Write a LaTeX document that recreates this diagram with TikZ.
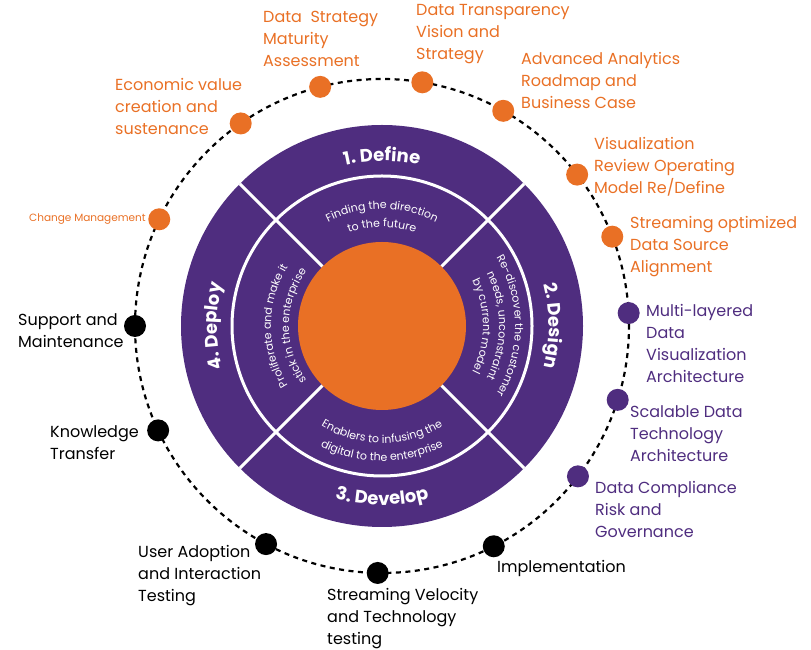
\documentclass[tikz,border=0pt]{standalone}
\usepackage{fontspec}
\setmainfont{Poppins}
\usetikzlibrary{decorations.text}
\definecolor{wheelpurple}{RGB}{79,45,127}
\definecolor{wheelorange}{RGB}{233,112,37}

\begin{document}
\begin{tikzpicture}[x = 1pt, y = 1pt,
		dot/.style = {circle, fill = #1, inner sep = 0pt, minimum size = 22pt},
		lbl/.style = {anchor = north west, inner sep = 0pt, align = left, text = #1, font = \fontsize{16}{22}\selectfont},
		trail/.style = {dash pattern = on 5pt off 4.5pt, line width = 2.2pt},
		stage/.style = {decorate, decoration = {text along path, text align = center, text = {|\bfseries\fontsize{18}{18}\selectfont\color{white}|#1}}},
		aim/.style = {decorate, decoration = {text along path, text align = center, text = {|\fontsize{11}{11}\selectfont\color{white}|#1}}}]
		\useasboundingbox (0, 0) rectangle (811, 650);
		%%%%%%%%%%%%%
		\begin{scope}[shift = {(382, 324)}]
		\draw [trail] (0, 0) circle (247);
		\fill [wheelpurple] (0, 0) circle (201);
		\draw [white, line width = 3pt] (0, 0) circle (150);
		\foreach \a in {45, 135, 225, 315}
			\draw [white, line width = 3pt] (\a:84) -- (\a:201);
		\fill [wheelorange] (0, 0) circle (84);
		%%%%%%%%%%%%%
		\path [stage = {1. Define}] (135:165) arc [start angle = 135, end angle = 45, radius = 165];
		\path [stage = {2. Design}] (45:167) arc [start angle = 45, end angle = -45, radius = 167];
		\path [stage = {3. Develop}] (225:179) arc [start angle = 225, end angle = 315, radius = 179];
		\path [stage = {4. Deploy}] (225:165) arc [start angle = 225, end angle = 135, radius = 165];
		%%%%%%%%%%%%%
		\path [aim = {Finding the direction}] (135:117) arc [start angle = 135, end angle = 45, radius = 117];
		\path [aim = {to the future}] (135:99) arc [start angle = 135, end angle = 45, radius = 99];
		\path [aim = {Re-discover the customer}] (45:133) arc [start angle = 45, end angle = -45, radius = 133];
		\path [aim = {needs, unconstraint}] (45:117) arc [start angle = 45, end angle = -45, radius = 117];
		\path [aim = {by current model}] (45:101) arc [start angle = 45, end angle = -45, radius = 101];
		\path [aim = {Enablers to infusing the}] (225:117) arc [start angle = 225, end angle = 315, radius = 117];
		\path [aim = {digital to the enterprise}] (225:135) arc [start angle = 225, end angle = 315, radius = 135];
		\path [aim = {Proliferate and make it}] (225:111) arc [start angle = 225, end angle = 135, radius = 111];
		\path [aim = {stick in the enterprise}] (225:93) arc [start angle = 225, end angle = 135, radius = 93];
		%%%%%%%%%%%%%
		\node [dot = wheelorange] (dsma) at (104.5:247) {};
		\node [dot = wheelorange] (dtvs) at (80.6:247) {};
		\node [dot = wheelorange] (aarb) at (60.6:247) {};
		\node [dot = wheelorange] (vrom) at (37.8:247) {};
		\node [dot = wheelorange] (sods) at (21.2:247) {};
		\node [dot = wheelpurple] (mldv) at (3:247) {};
		\node [dot = wheelpurple] (sdta) at (-17.4:247) {};
		\node [dot = wheelpurple] (dcrg) at (-37.5:247) {};
		\node [dot = black] (impl) at (-63.1:247) {};
		\node [dot = black] (svtt) at (-91:247) {};
		\node [dot = black] (uait) at (-118:247) {};
		\node [dot = black] (kt) at (-155:247) {};
		\node [dot = black] (sm) at (180:247) {};
		\node [dot = wheelorange] (cm) at (154.4:247) {};
		\node [dot = wheelorange] (evcs) at (124.9:247) {};
		\end{scope}
		%%%%%%%%%%%%%
		\node [lbl = wheelorange] (dsmatext) at (263, 639) {Data\ \ Strategy\\Maturity\\Assessment};
		\node [lbl = wheelorange] (dtvstext) at (416, 646) {Data Transparency\\Vision and\\Strategy};
		\node [lbl = wheelorange] (aarbtext) at (521, 598) {Advanced Analytics\\Roadmap and\\Business Case};
		\node [lbl = wheelorange] (vromtext) at (594, 513) {Visualization\\Review Operating\\Model Re/Define};
		\node [lbl = wheelorange] (sodstext) at (630, 434) {Streaming optimized\\Data Source\\Alignment};
		\node [lbl = wheelpurple] (mldvtext) at (646, 346) {Multi-layered\\Data\\Visualization\\Architecture};
		\node [lbl = wheelpurple] (sdtatext) at (630, 245) {Scalable Data\\Technology\\Architecture};
		\node [lbl = wheelpurple] (dcrgtext) at (595, 169) {Data Compliance\\Risk and\\Governance};
		\node [lbl = black] (impltext) at (497, 90) {Implementation};
		\node [lbl = black] (svtttext) at (327, 62) {Streaming Velocity\\and Technology\\testing};
		\node [lbl = black] (uaittext) at (138, 105) {User Adoption\\and Interaction\\Testing};
		\node [lbl = black] (kttext) at (50, 225) {Knowledge\\Transfer};
		\node [lbl = black] (smtext) at (18, 337) {Support and\\Maintenance};
		\node [lbl = wheelorange, font = \fontsize{10.5}{12}\selectfont] (cmtext) at (29, 436) {Change Management};
		\node [lbl = wheelorange] (evcstext) at (115, 572) {Economic value\\creation and\\sustenance};
\end{tikzpicture}
\end{document}
